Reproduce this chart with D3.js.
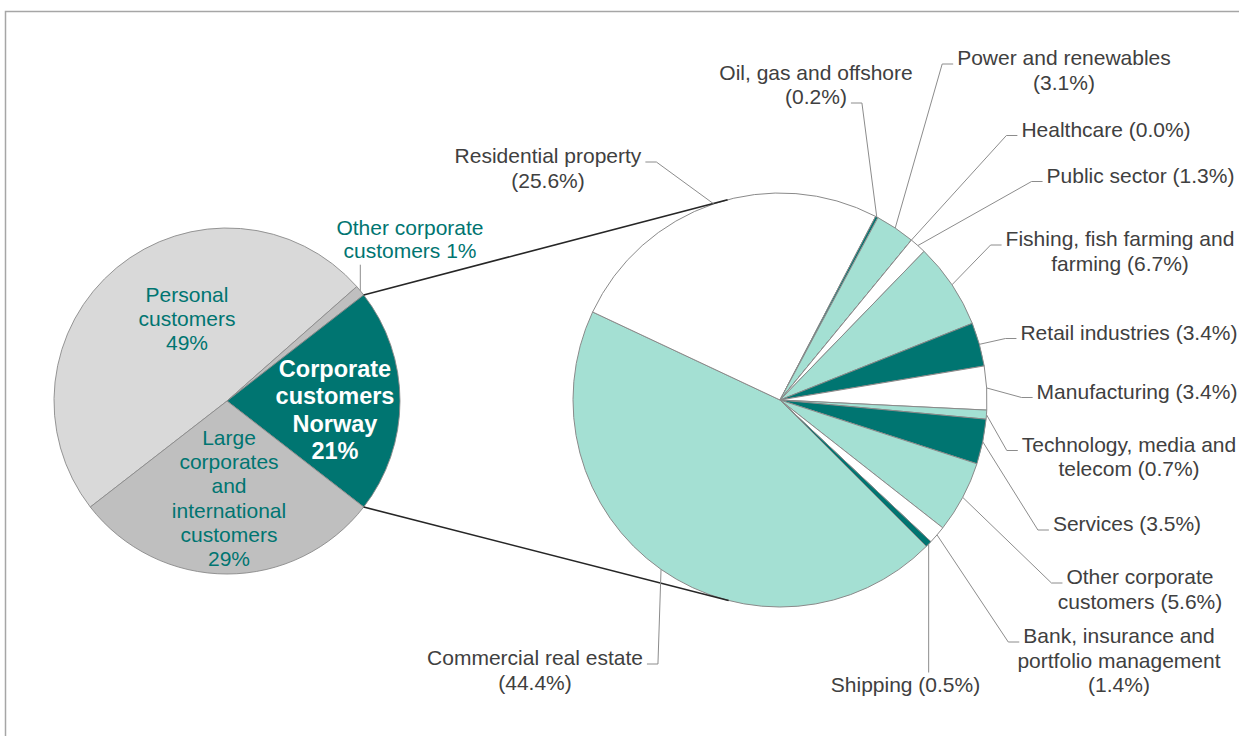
<!DOCTYPE html>
<html>
<head>
<meta charset="utf-8">
<script src="https://cdn.jsdelivr.net/npm/d3@7"></script>
<style>
  html, body { margin: 0; padding: 0; background: #ffffff; }
  svg { display: block; }
</style>
</head>
<body>
<svg id="chart" width="1239" height="736"></svg>
<script>
// ---- Data: loan portfolio by segment ----
const segmentNames = [
  "Personal customers",
  "Other corporate customers",
  "Corporate customers Norway",
  "Large corporates and international customers"
];
const segmentShares = [49, 1, 21, 29];
const segmentLabels = [
  "Personal\ncustomers\n{v}%",
  "Other corporate\ncustomers {v}%",
  "Corporate\ncustomers\nNorway\n{v}%",
  "Large\ncorporates\nand\ninternational\ncustomers\n{v}%"
];

// ---- Data: Corporate customers Norway by industry ----
const sectorNames = [
  "Commercial real estate",
  "Residential property",
  "Oil, gas and offshore",
  "Power and renewables",
  "Healthcare",
  "Public sector",
  "Fishing, fish farming and farming",
  "Retail industries",
  "Manufacturing",
  "Technology, media and telecom",
  "Services",
  "Other corporate customers",
  "Bank, insurance and portfolio management",
  "Shipping"
];
const sectorShares = [44.4, 25.6, 0.2, 3.1, 0.0, 1.3, 6.7, 3.4, 3.4, 0.7, 3.5, 5.6, 1.4, 0.5];
const sectorLabels = [
  "Commercial real estate\n({v}%)",
  "Residential property\n({v}%)",
  "Oil, gas and offshore\n({v}%)",
  "Power and renewables\n({v}%)",
  "Healthcare ({v}%)",
  "Public sector ({v}%)",
  "Fishing, fish farming and\nfarming ({v}%)",
  "Retail industries ({v}%)",
  "Manufacturing ({v}%)",
  "Technology, media and\ntelecom ({v}%)",
  "Services ({v}%)",
  "Other corporate\ncustomers ({v}%)",
  "Bank, insurance and\nportfolio management\n({v}%)",
  "Shipping ({v}%)"
];

// ---- Styles ----
const TEAL = "#007571";
const MINT = "#a4e0d3";
const WHITE = "#ffffff";
const segmentColors = ["#d9d9d9", "#bfbfbf", TEAL, "#bfbfbf"];
const sectorColors = [MINT, WHITE, TEAL, MINT, WHITE, WHITE, MINT, TEAL, WHITE, MINT, TEAL, MINT, WHITE, TEAL];
const FONT = "'Liberation Sans', Arial, Helvetica, sans-serif";

// ---- Layout ----
const left = { cx: 227, cy: 401, r: 173 };
const right = { cx: 780, cy: 400, r: 207 };

const segmentLabelPlacement = [
  { cx: 187, y: 301.7, lh: 24.2, color: TEAL, size: 21, weight: "normal" },
  { cx: 410, y: 234.5, lh: 23.2, color: TEAL, size: 21, weight: "normal", leader: "below" },
  { cx: 335, y: 376.7, lh: 27.4, color: "#ffffff", size: 23.5, weight: "bold" },
  { cx: 229, y: 445, lh: 24.2, color: TEAL, size: 21, weight: "normal" }
];

const sectorLabelPlacement = [
  { cx: 535, y: 665, line: 0, side: "right" },
  { cx: 548, y: 163, line: 0, side: "right" },
  { cx: 816, y: 79.5, line: 1, side: "right" },
  { cx: 1064, y: 65, line: 0, side: "left" },
  { cx: 1106, y: 136.5, line: 0, side: "left" },
  { cx: 1140.5, y: 182.5, line: 0, side: "left" },
  { cx: 1120, y: 246, line: 0, side: "left" },
  { cx: 1129, y: 339.5, line: 0, side: "left" },
  { cx: 1137, y: 398.5, line: 0, side: "left" },
  { cx: 1129, y: 451.5, line: 0, side: "left" },
  { cx: 1127, y: 531, line: 0, side: "left" },
  { cx: 1140, y: 584, line: 0, side: "left" },
  { cx: 1119, y: 643, line: 0, side: "left" },
  { cx: 905.5, y: 691.5, line: 0, side: "top" }
];
const SECTOR_LH = 24.5;

const svg = d3.select("#chart");

// Outer frame
svg.append("rect")
  .attr("x", 5.5).attr("y", 11.5)
  .attr("width", 1300).attr("height", 800)
  .attr("fill", "none")
  .attr("stroke", "#a6a6a6")
  .attr("stroke-width", 1.5);

const tau = 2 * Math.PI;
const pointAt = (c, a, r) => [c.cx + r * Math.sin(a), c.cy - r * Math.cos(a)];

// ---- Left pie: segments, with Corporate customers Norway centred on the right ----
const segTotal = d3.sum(segmentShares);
const cnIndex = 2;
const beforeCn = d3.sum(segmentShares.slice(0, cnIndex));
const leftStart = Math.PI / 2 - ((beforeCn + segmentShares[cnIndex] / 2) / segTotal) * tau;

const leftPie = d3.pie().sort(null).value(d => d)
  .startAngle(leftStart).endAngle(leftStart + tau);
const leftArcs = leftPie(segmentShares);
const leftArc = d3.arc().innerRadius(0).outerRadius(left.r);

// ---- Right pie: industries ----
const rightPie = d3.pie().sort(null).value(d => d)
  .startAngle(Math.PI * 3 / 4).endAngle(Math.PI * 3 / 4 + tau);
const rightArcs = rightPie(sectorShares);
const rightArc = d3.arc().innerRadius(0).outerRadius(right.r);

const gRight = svg.append("g").attr("transform", `translate(${right.cx},${right.cy})`);
gRight.selectAll("path").data(rightArcs).join("path")
  .attr("d", rightArc)
  .attr("fill", (d, i) => sectorColors[i])
  .attr("stroke", "#8a8a8a")
  .attr("stroke-width", 1)
  .attr("stroke-linejoin", "round");

const gLeft = svg.append("g").attr("transform", `translate(${left.cx},${left.cy})`);
gLeft.selectAll("path").data(leftArcs).join("path")
  .attr("d", leftArc)
  .attr("fill", (d, i) => segmentColors[i])
  .attr("stroke", "#8a8a8a")
  .attr("stroke-width", 0.9)
  .attr("stroke-linejoin", "round");

// ---- Connector lines from the exploded segment to tangents of the right pie ----
function tangentPoint(p, c, r, sign) {
  const dx = p[0] - c.cx, dy = p[1] - c.cy;
  const d = Math.hypot(dx, dy);
  const base = Math.atan2(dy, dx);
  const off = Math.acos(r / d);
  const a = base + sign * off;
  return [c.cx + r * Math.cos(a), c.cy + r * Math.sin(a)];
}
const cn = leftArcs[cnIndex];
const pTop = pointAt(left, cn.startAngle, left.r);
const pBot = pointAt(left, cn.endAngle, left.r);
const tTop = tangentPoint(pTop, right, right.r, 1);
const tBot = tangentPoint(pBot, right, right.r, -1);
svg.append("line")
  .attr("x1", pTop[0]).attr("y1", pTop[1]).attr("x2", tTop[0]).attr("y2", tTop[1])
  .attr("stroke", "#262626").attr("stroke-width", 1.6);
svg.append("line")
  .attr("x1", pBot[0]).attr("y1", pBot[1]).attr("x2", tBot[0]).attr("y2", tBot[1])
  .attr("stroke", "#262626").attr("stroke-width", 1.6);

// ---- Labels ----
const fmtSeg = v => d3.format("d")(v);
const fmtSector = v => d3.format(".1f")(v);

function drawLabel(lines, opt) {
  const t = svg.append("text")
    .attr("font-family", FONT)
    .attr("font-size", opt.size)
    .attr("font-weight", opt.weight)
    .attr("fill", opt.color)
    .attr("text-anchor", "middle");
  const spans = lines.map((ln, k) =>
    t.append("tspan").attr("x", opt.cx).attr("y", opt.y + k * opt.lh).text(ln));
  return spans.map(s => s.node().getComputedTextLength());
}

const leaderStroke = "#8c8c8c";
const leaderLine = d3.line();

// Segment labels (left pie)
leftArcs.forEach((a, i) => {
  const pl = segmentLabelPlacement[i];
  const lines = segmentLabels[i].replace("{v}", fmtSeg(segmentShares[i])).split("\n");
  drawLabel(lines, pl);
  if (pl.leader === "below") {
    const mid = (a.startAngle + a.endAngle) / 2;
    const p = pointAt(left, mid, left.r);
    const lastBase = pl.y + (lines.length - 1) * pl.lh;
    svg.append("path")
      .attr("d", leaderLine([p, [p[0], lastBase + 7]]))
      .attr("fill", "none").attr("stroke", leaderStroke).attr("stroke-width", 1);
  }
});

// Sector labels (right pie) with leader lines
rightArcs.forEach((a, i) => {
  const pl = sectorLabelPlacement[i];
  const lines = sectorLabels[i].replace("{v}", fmtSector(sectorShares[i])).split("\n");
  const widths = drawLabel(lines, { cx: pl.cx, y: pl.y, lh: SECTOR_LH, size: 21, weight: "normal", color: "#404040" });
  const mid = (a.startAngle + a.endAngle) / 2;
  const p = pointAt(right, mid, right.r);
  let pts;
  if (pl.side === "top") {
    pts = [p, [p[0], pl.y - 19]];
  } else {
    const base = pl.y + pl.line * SECTOR_LH - 1;
    const w = widths[pl.line];
    if (pl.side === "left") {
      const end = [pl.cx - w / 2 - 4, base];
      pts = [p, [end[0] - 11, base], end];
    } else {
      const end = [pl.cx + w / 2 + 4, base];
      pts = [p, [end[0] + 11, base], end];
    }
  }
  svg.append("path")
    .attr("d", leaderLine(pts))
    .attr("fill", "none").attr("stroke", leaderStroke).attr("stroke-width", 1);
});
</script>
</body>
</html>
